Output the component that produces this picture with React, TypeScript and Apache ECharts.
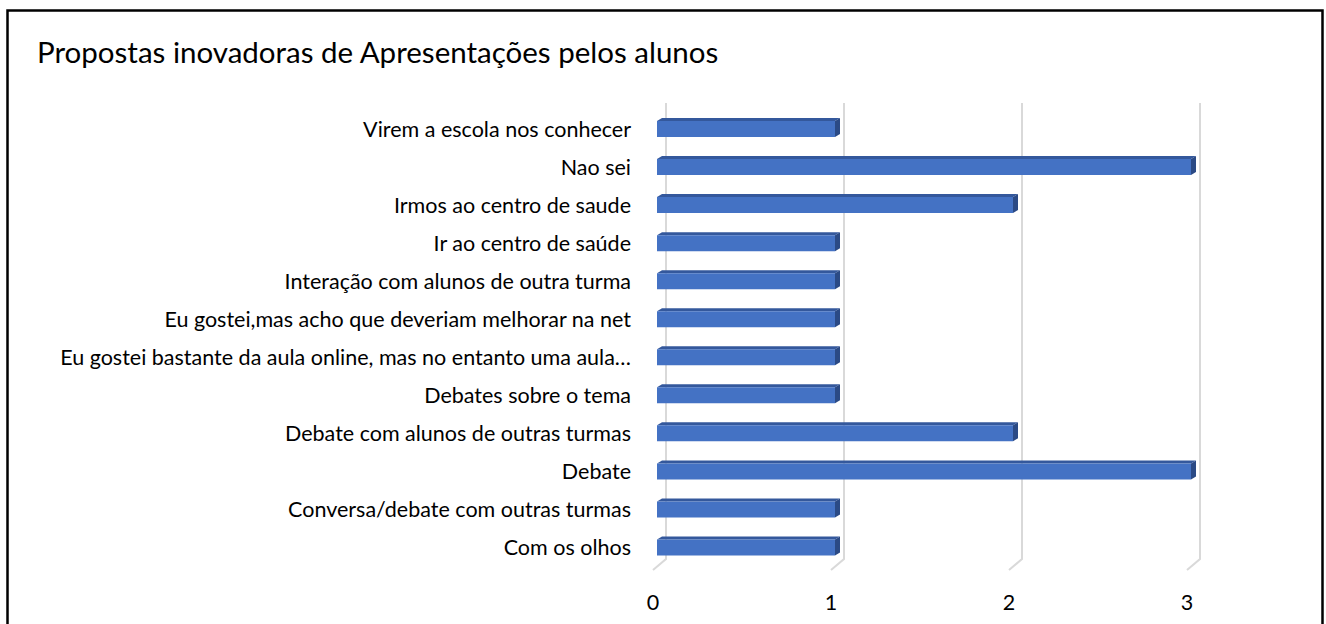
import React, { useEffect, useRef } from "react";
import * as echarts from "echarts";

const titleText = "Propostas inovadoras de Apresentações pelos alunos";

// bottom-to-top, as the value axis reads
const categories = [
  "Com os olhos",
  "Conversa/debate com outras turmas",
  "Debate",
  "Debate com alunos de outras turmas",
  "Debates sobre o tema",
  "Eu gostei bastante da aula online, mas no entanto uma aula…",
  "Eu gostei,mas acho que deveriam melhorar na net",
  "Interação com alunos de outra turma",
  "Ir ao centro de saúde",
  "Irmos ao centro de saude",
  "Nao sei",
  "Virem a escola nos conhecer",
];
const counts = [1, 1, 3, 2, 1, 1, 1, 1, 1, 2, 3, 1];
const gridTicks = [0, 1, 2, 3];

const FONT = "Lato, 'Noto Sans', sans-serif";

export default function App() {
  const ref = useRef<HTMLDivElement>(null);
  useEffect(() => {
    if (!ref.current) return;
    const chart = echarts.init(ref.current, null, { renderer: "svg" });
    const barH = 16;
    const dx = 5;
    const dy = -3;
    chart.setOption({
      animation: false,
      backgroundColor: "#fff",
      title: {
        text: titleText,
        left: 32,
        top: 31,
        textStyle: { fontFamily: FONT, fontSize: 29.5, fontWeight: "normal", color: "#000" },
      },
      graphic: [
        {
          type: "rect",
          shape: { x: 7.5, y: 10.5, width: 1315, height: 700 },
          style: { fill: "none", stroke: "#000", lineWidth: 2.5 },
          silent: true,
          z: 100,
        },
      ],
      grid: { left: 657, right: 135, top: 110, bottom: 57.5, containLabel: false },
      xAxis: {
        type: "value",
        min: 0,
        max: 3,
        interval: 1,
        axisLine: { show: false },
        axisTick: { show: false },
        splitLine: { show: false },
        axisLabel: {
          margin: 24,
          padding: [0, 8, 0, 0],
          fontFamily: FONT,
          fontSize: 21.5,
          color: "#000",
        },
      },
      yAxis: {
        type: "category",
        data: categories,
        axisLine: { show: false },
        axisTick: { show: false },
        splitLine: { show: false },
        axisLabel: { margin: 26, fontFamily: FONT, fontSize: 21.5, color: "#000" },
      },
      series: [
        {
          type: "custom",
          z: 1,
          silent: true,
          data: gridTicks.map((v) => [v, 0]),
          encode: { x: 0, y: 1 },
          renderItem: (params: any, api: any) => {
            const cs = params.coordSys;
            const p = api.coord([api.value(0), 0]);
            const X = p[0];
            const bottom = cs.y + cs.height;
            return {
              type: "polyline",
              shape: {
                points: [
                  [X + 9, cs.y - 7],
                  [X + 9, bottom - 7.5],
                  [X - 4, bottom + 3.5],
                ],
              },
              style: { stroke: "#d9d9d9", lineWidth: 2, fill: "none" },
            };
          },
        },
        {
          type: "custom",
          z: 2,
          data: counts.map((v, i) => [v, i]),
          encode: { x: 0, y: 1 },
          renderItem: (params: any, api: any) => {
            const v = api.value(0);
            const c = api.value(1);
            const s = api.coord([0, c]);
            const e = api.coord([v, c]);
            const x0 = s[0];
            const x1 = e[0];
            const y0 = s[1] - barH / 2;
            const y1 = y0 + barH;
            return {
              type: "group",
              children: [
                {
                  type: "polygon",
                  shape: {
                    points: [
                      [x0, y0],
                      [x0 + dx, y0 + dy],
                      [x1 + dx, y0 + dy],
                      [x1, y0],
                    ],
                  },
                  style: { fill: "#34589c" },
                },
                {
                  type: "polygon",
                  shape: {
                    points: [
                      [x1, y0],
                      [x1 + dx, y0 + dy],
                      [x1 + dx, y1 + dy],
                      [x1, y1],
                    ],
                  },
                  style: { fill: "#2b4a85" },
                },
                {
                  type: "rect",
                  shape: { x: x0, y: y0, width: x1 - x0, height: barH },
                  style: { fill: "#4472c4" },
                },
              ],
            };
          },
        },
      ],
    });
    return () => chart.dispose();
  }, []);
  return (
    <div
      ref={ref}
      style={{ position: "fixed", left: 0, top: 0, width: 1326, height: 624 }}
    />
  );
}
